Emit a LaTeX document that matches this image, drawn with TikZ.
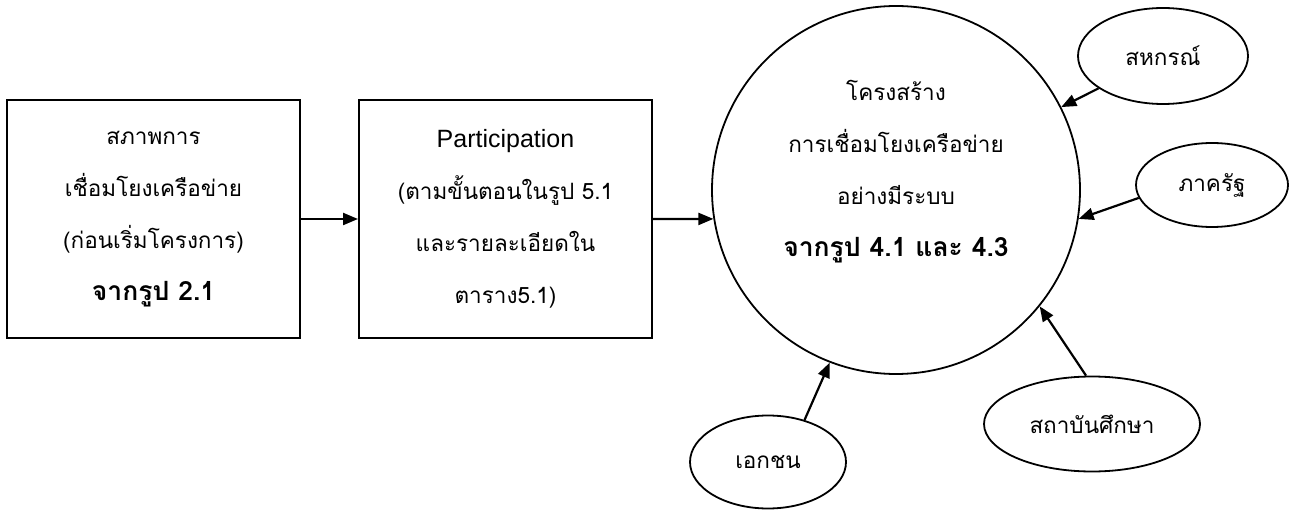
\documentclass[tikz,border=0pt]{standalone}
\usepackage{fontspec}
\usepackage{tikz}
\usetikzlibrary{arrows.meta,shapes.geometric}
\setmainfont{Liberation Sans}
\newfontfamily\thaifont[Script=Thai]{Loma}
\newcommand{\boldline}[1]{{\fontsize{26.5}{52}\selectfont\bfseries #1}}

\tikzset{
    stagebox/.style={draw=black,line width=2pt,minimum width=293pt,minimum height=237pt,inner sep=0pt,
        font=\thaifont\fontsize{22.5}{52}\selectfont,align=center},
    partner/.style={draw=black,ellipse,line width=1.8pt,inner sep=0pt,
        font=\thaifont\fontsize{22.5}{26}\selectfont},
    flow/.style={-{Triangle[length=15pt,width=12pt]},line width=2.2pt}
}

\begin{document}
\begin{tikzpicture}[x=1pt,y=-1pt]
    \useasboundingbox (0,0) rectangle (1300,510);

    % two stages on the left
    \node[stagebox] (before) at (153.5,219) {สภาพการ\\เชื่อมโยงเครือข่าย\\(ก่อนเริ่มโครงการ)\\\boldline{จากรูป 2.1}};
    \node[stagebox] (particip) at (505.5,219) {{\rmfamily\fontsize{25}{52}\selectfont Participation}\\(ตามขั้นตอนในรูป 5.1\\และรายละเอียดใน\\ตาราง5.1)};

    % the network structure
    \node[draw=black,circle,line width=1.8pt,minimum size=368pt,inner sep=0pt] (hub) at (896,190) {};
    \node[font=\thaifont\fontsize{22.5}{52}\selectfont,align=center] (hubtext) at (896,172)
        {โครงสร้าง\\การเชื่อมโยงเครือข่าย\\อย่างมีระบบ\\\boldline{จากรูป 4.1 และ 4.3}};

    % partners round it
    \node[partner,minimum width=170pt,minimum height=96pt] (coop) at (1163,56) {สหกรณ์};
    \node[partner,minimum width=152pt,minimum height=84pt] (state) at (1212,185) {ภาครัฐ};
    \node[partner,minimum width=216pt,minimum height=95pt] (school) at (1092,424) {สถาบันศึกษา};
    \node[partner,minimum width=156pt,minimum height=93pt] (private) at (768,462) {เอกชน};

    \draw[flow] (before) -- (particip);
    \draw[flow] (particip.east) -- (hub.189);
    \draw[flow] (coop) -- (hub);
    \draw[flow] (state.190) -- (hub.-9);
    \draw[flow] (school.97) -- (hub.-39);
    \draw[flow] (private.49) -- (hub.-111);
\end{tikzpicture}
\end{document}
